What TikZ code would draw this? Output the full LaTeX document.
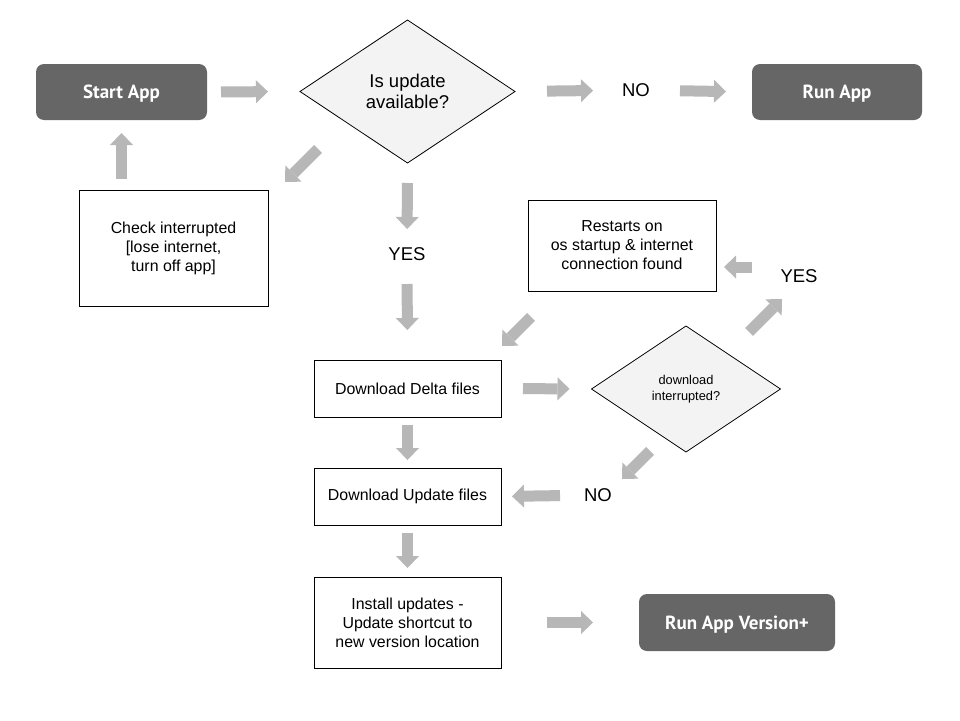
\documentclass[tikz,border=0pt]{standalone}
\usepackage{fontspec}
\setmainfont{Liberation Sans}
\newfontfamily\appfont{PT Sans}
\usetikzlibrary{arrows.meta,shapes.geometric}

\begin{document}
\begin{tikzpicture}[x=1pt,y=-1pt,
    box/.style={draw,line width=1pt,minimum width=187pt,minimum height=57pt,align=center,inner sep=2pt,outer sep=0pt,font=\fontsize{15.9}{19}\selectfont},
    app/.style={fill=appgray,rounded corners=8pt,minimum width=171pt,minimum height=56pt,text=white,text depth=0pt,outer sep=0pt,font=\appfont\bfseries\fontsize{19}{22}\selectfont},
    decision/.style={diamond,draw,line width=0.8pt,fill=decisionfill,inner sep=0pt,outer sep=0pt,align=center},
    answer/.style={inner sep=0pt,font=\fontsize{18.5}{22}\selectfont},
    flow/.style={draw=arrowgray,line width=11pt,-{Triangle[length=12pt,width=23pt,line width=0pt]}}]
    % Colours
    \definecolor{appgray}{HTML}{666666}
    \definecolor{arrowgray}{HTML}{B7B7B7}
    \definecolor{decisionfill}{HTML}{F3F3F3}

    % Page
    \useasboundingbox (0,0) rectangle (960,720);
    \fill[white] (0,0) rectangle (960,720);

    % Top row
    \node[app] (start) at (121.5,92) {Start App};
    \node[decision,minimum width=215pt,minimum height=143pt,font=\fontsize{18.5}{21}\selectfont] (upd) at (407.5,91.5) {Is update\\available?};
    \node[answer] (no1) at (636,90) {NO};
    \node[app,minimum width=170pt] (run) at (837,92) {Run App};

    % Interrupted check and download loop
    \node[box,minimum width=189pt,minimum height=116pt] (check) at (173.5,248) {Check interrupted\\{[}lose internet,\\turn off app{]}};
    \node[answer] (yes1) at (407,254) {YES};
    \node[box,minimum width=188pt,minimum height=91pt] (restart) at (622,245.5) {Restarts on\\os startup \& internet\\connection found};
    \node[answer] (yes2) at (799,276) {YES};
    \node[box] (delta) at (407.5,388.5) {Download Delta files};
    \node[decision,minimum width=189pt,minimum height=126pt,font=\fontsize{12.8}{16}\selectfont] (intr) at (686,389) {download\\interrupted?};
    \node[answer] (no2) at (598,495) {NO};
    \node[box] (updf) at (407.5,496.5) {Download Update files};

    % Install
    \node[box,minimum height=91pt] (inst) at (407.5,622.5) {Install updates -\\Update shortcut to\\new version location};
    \node[app,minimum width=196pt,minimum height=57pt] (runv) at (737,622.5) {Run App Version+};

    % Free ends of the slanted and offset arrows
    \coordinate (d1a) at (318,149);
    \coordinate (d1b) at (285,182);
    \coordinate (d2a) at (531,317);
    \coordinate (d2b) at (502,346);
    \coordinate (d3a) at (749,332);
    \coordinate (d3b) at (782,299);
    \coordinate (d4a) at (650,451);
    \coordinate (d4b) at (622,479);
    \coordinate (y2a) at (752,267);
    \coordinate (y2b) at (724,267);

    % Arrows
    \draw[flow,shorten <=14pt,shorten >=32pt] (start.east) -- (upd.west);
    \draw[flow,shorten <=32pt,shorten >=43pt] (upd.east) -- (no1.center);
    \draw[flow,shorten <=44pt,shorten >=26pt] (no1.center) -- (run.west);
    \draw[flow,shorten <=11pt,shorten >=13pt] (start |- check.north) -- (start.south);
    \draw[flow] (d1a) -- (d1b);
    \draw[flow,shorten <=20pt,shorten >=25pt] (upd.south) -- (yes1.center);
    \draw[flow,shorten <=30pt,shorten >=30pt] (yes1.center) -- (delta.north);
    \draw[flow] (d2a) -- (d2b);
    \draw[flow] (y2a) -- (y2b);
    \draw[flow] (d3a) -- (d3b);
    \draw[flow,shorten <=22pt,shorten >=22pt] (delta.east) -- (intr.west);
    \draw[flow] (d4a) -- (d4b);
    \draw[flow,shorten <=38pt,shorten >=11pt] (no2.center) -- (updf.east);
    \draw[flow,shorten <=8pt,shorten >=8pt] (delta.south) -- (updf.north);
    \draw[flow,shorten <=8pt,shorten >=9pt] (updf.south) -- (inst.north);
    \draw[flow,shorten <=46pt,shorten >=46pt] (inst.east) -- (runv.west);

\end{tikzpicture}
\end{document}
